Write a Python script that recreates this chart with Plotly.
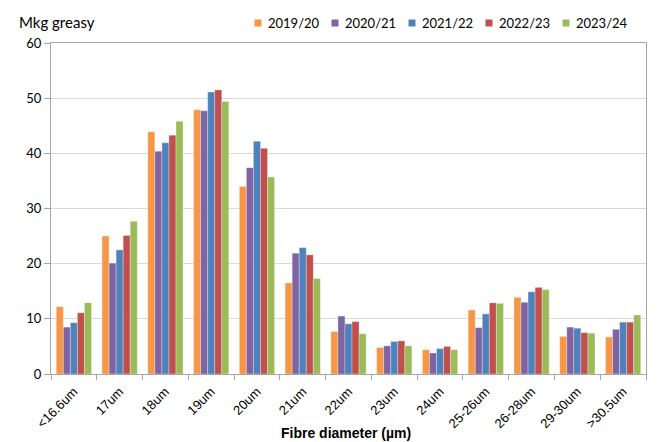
import plotly.graph_objects as go

categories = ["<16.6um", "17um", "18um", "19um", "20um", "21um", "22um", "23um",
              "24um", "25-26um", "26-28um", "29-30um", ">30.5um"]
seasons = ["2019/20", "2020/21", "2021/22", "2022/23", "2023/24"]
v_2019_20 = [12.2, 25.0, 43.9, 47.9, 34.0, 16.5, 7.7, 4.8, 4.4, 11.6, 13.9, 6.8, 6.7]
v_2020_21 = [8.5, 20.1, 40.4, 47.7, 37.4, 21.9, 10.5, 5.1, 3.8, 8.4, 13.0, 8.5, 8.1]
v_2021_22 = [9.3, 22.5, 41.9, 51.1, 42.2, 22.9, 9.1, 5.9, 4.6, 10.9, 14.9, 8.3, 9.4]
v_2022_23 = [11.1, 25.1, 43.3, 51.5, 40.9, 21.6, 9.5, 6.0, 5.0, 12.9, 15.7, 7.5, 9.4]
v_2023_24 = [12.9, 27.7, 45.8, 49.4, 35.7, 17.3, 7.3, 5.1, 4.4, 12.8, 15.3, 7.4, 10.7]
series = [v_2019_20, v_2020_21, v_2021_22, v_2022_23, v_2023_24]
colors = ["#F79646", "#8064A2", "#4F81BD", "#C0504D", "#9BBB59"]

W, H = 660, 442
L, R, T, B = 51, 14, 43, 68
pw, ph = W - L - R, H - T - B


def px2x(px):
    return (px - L) / pw


def py2y(py):
    return (H - B - py) / ph


fig = go.Figure()
for name, vals, c in zip(seasons, series, colors):
    fig.add_trace(go.Bar(x=categories, y=vals, name=name, marker_color=c,
                         marker_line=dict(color="rgba(255,255,255,0.6)", width=0.5)))

calib = "Lato, Carlito, Calibri, sans-serif"
fig.update_layout(
    width=W, height=H,
    margin=dict(l=L, r=R, t=T, b=B, autoexpand=False),
    paper_bgcolor="white", plot_bgcolor="white",
    barmode="group", bargap=0.23, bargroupgap=0,
    showlegend=False,
    font=dict(family=calib, color="#000"),
)
fig.update_yaxes(range=[0, 60], dtick=10, showgrid=True, gridcolor="#D9D9D9", gridwidth=1,
                 showline=True, linecolor="#A6A6A6", linewidth=1, mirror=True,
                 ticks="outside", ticklen=6, tickcolor="#A6A6A6", automargin=False,
                 tickfont=dict(family=calib, size=13, color="#000"), zeroline=False)
fig.update_xaxes(showline=True, linecolor="#A6A6A6", linewidth=1, mirror=True,
                 ticks="outside", ticklen=5, tickcolor="#A6A6A6", tickson="boundaries",
                 tickangle=-45, ticklabelstandoff=4, automargin=False,
                 tickfont=dict(family="Liberation Sans, Arial", size=13, color="#000"))

# x-axis title
fig.add_annotation(text="<b>Fibre diameter (µm)</b>", xref="paper", yref="paper",
                   x=px2x(346), y=py2y(433), xanchor="center", yanchor="middle", showarrow=False,
                   font=dict(family="Liberation Sans, Arial", size=14, color="#000"))
# y-axis unit label
fig.add_annotation(text="Mkg greasy", xref="paper", yref="paper", x=px2x(17), y=py2y(22),
                   xanchor="left", yanchor="middle", showarrow=False,
                   font=dict(family=calib, size=15, color="#000"))

# legend (manual, compact like the original)
for i, (name, c) in enumerate(zip(seasons, colors)):
    cx = 258 + 77 * i
    cy = 23
    fig.add_shape(type="rect", xref="paper", yref="paper",
                  x0=px2x(cx - 3.5), x1=px2x(cx + 3.5), y0=py2y(cy + 3.5), y1=py2y(cy - 3.5),
                  fillcolor=c, line=dict(width=0))
    fig.add_annotation(text=name, xref="paper", yref="paper", x=px2x(cx + 8), y=py2y(cy),
                       xanchor="left", yanchor="middle", showarrow=False,
                       font=dict(family=calib, size=13, color="#000"))

fig.write_html("out.html")
